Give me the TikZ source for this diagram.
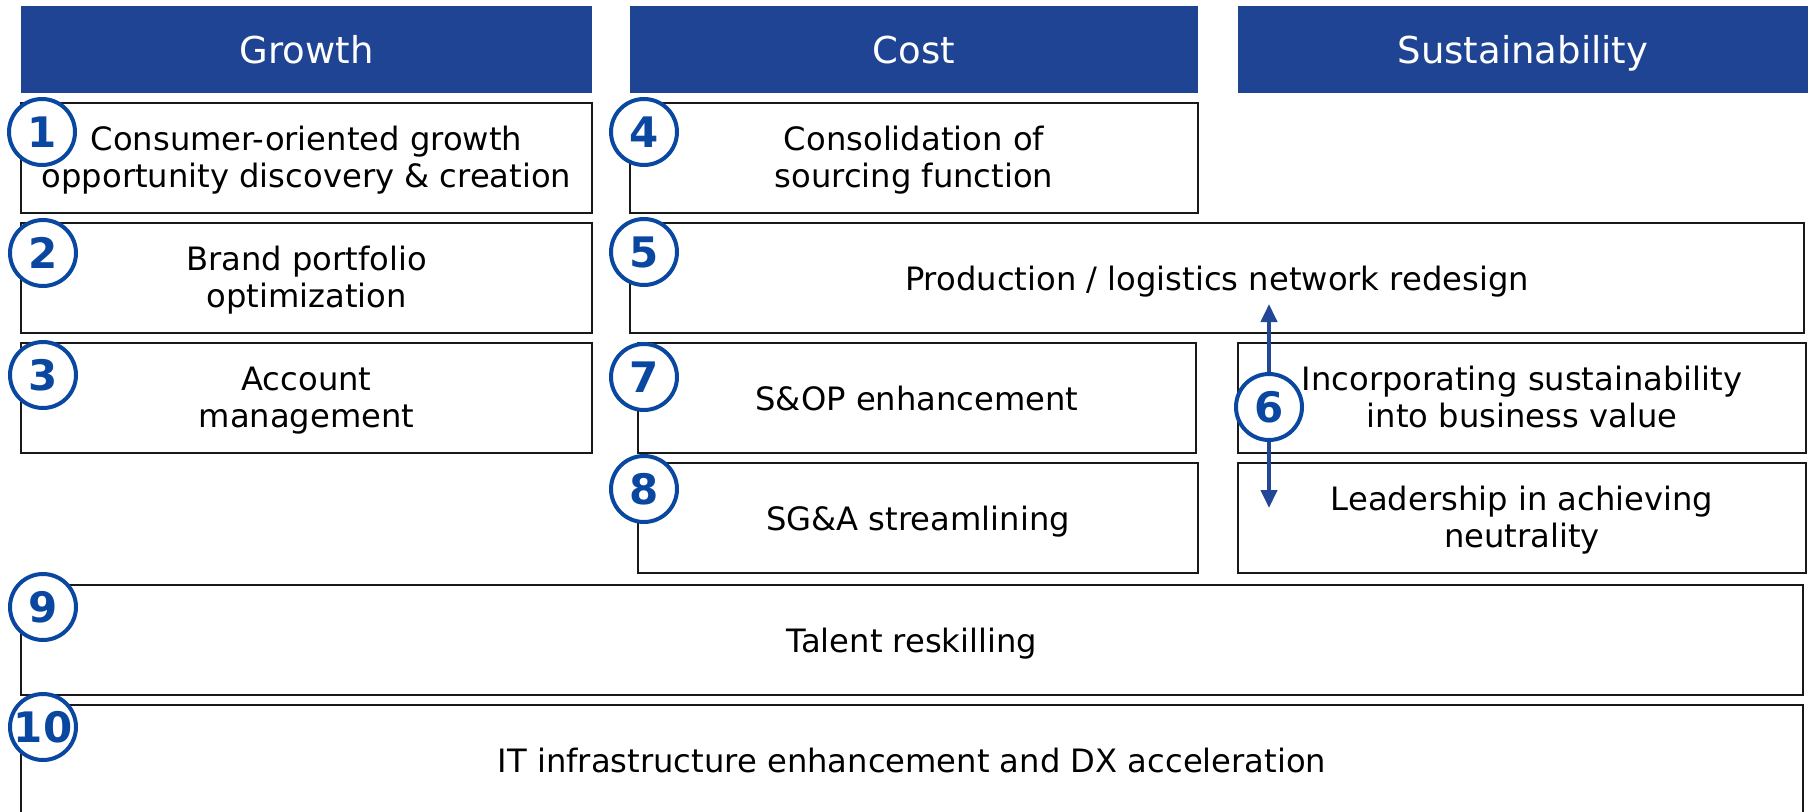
\documentclass[tikz,border=0pt]{standalone}
\usepackage{fontspec}
\setmainfont{DejaVu Sans}
\usetikzlibrary{arrows.meta,shapes.geometric}
\definecolor{hdrblue}{RGB}{31,68,148}
\definecolor{numblue}{RGB}{10,71,160}
\definecolor{arrblue}{RGB}{35,70,150}
\newcommand{\twolines}[2]{\raisebox{-4pt}[\height][\depth]{\begin{tabular}{@{}c@{}}#1\\#2\end{tabular}}}
\begin{document}
\begin{tikzpicture}[x=1pt,y=-1pt,
  hdr/.style={fill=hdrblue, draw=none, text=white, font=\fontsize{37}{44}\selectfont, inner sep=0, minimum height=87pt, text height=27pt, text depth=0pt},
  item/.style={draw=black!90, line width=2pt, fill=white, align=center, font=\fontsize{32.2}{37}\selectfont, inner sep=0, minimum height=110pt},
  line1/.style={item, text height=24pt, text depth=0pt},
  line2/.style={item},
  num/.style={circle, draw=numblue, line width=4pt, fill=white, text=numblue, font=\bfseries\fontsize{42}{42}\selectfont, minimum size=66pt, inner sep=0, text height=30.5pt, text depth=0pt},
  biarrow/.style={draw=arrblue, line width=4pt, -{Triangle[length=18pt,width=16pt]}},
]
\useasboundingbox (0,0) rectangle (1812,811);
% headers
\node[hdr, minimum width=571pt] (hg) at (306.5,49.5) {Growth};
\node[hdr, minimum width=568pt] (hc) at (914,49.5) {Cost};
\node[hdr, minimum width=570pt] (hs) at (1523,49.5) {Sustainability};
% boxes
\node[line2, minimum width=571pt] (b1) at (306.5,158) {\twolines{Consumer-oriented growth}{opportunity discovery \& creation}};
\node[line2, minimum width=571pt] (b2) at (306.5,278) {\twolines{Brand portfolio}{optimization}};
\node[line2, minimum width=571pt] (b3) at (306.5,398) {\twolines{Account}{management}};
\node[line2, minimum width=568pt] (b4) at (914,158) {\twolines{Consolidation of}{sourcing function}};
\node[line1, minimum width=1174pt] (b5) at (1217,278) {Production / logistics network redesign};
\node[line1, minimum width=558pt] (b7) at (917,398) {S\&OP enhancement};
\node[line1, minimum width=560pt] (b8) at (918,518) {SG\&A streamlining};
\node[line2, minimum width=568pt] (b6a) at (1522,398) {\twolines{Incorporating sustainability}{into business value}};
\node[line2, minimum width=568pt] (b6b) at (1522,518) {\twolines{Leadership in achieving}{neutrality}};
\node[line1, minimum width=1782pt] (b9) at (912,640) {Talent reskilling};
\node[line1, minimum width=1782pt] (b10) at (912,760) {IT infrastructure enhancement and DX acceleration};
% arrows for 6
\coordinate (tipup) at (1269,304);
\coordinate (tipdown) at (1269,508);
\node[num] (n6) at (1269,407) {6};
\draw[biarrow] (n6.north) -- (tipup);
\draw[biarrow] (n6.south) -- (tipdown);
% numbers
\node[num] (n1) at (42,132) {1};
\node[num] (n2) at (43,253) {2};
\node[num] (n3) at (43,375) {3};
\node[num] (n4) at (644,132) {4};
\node[num] (n5) at (644,252) {5};
\node[num] (n7) at (644,377) {7};
\node[num] (n8) at (644,489) {8};
\node[num] (n9) at (43,607) {9};
\node[num] (n10) at (43,727) {10};
\end{tikzpicture}
\end{document}
